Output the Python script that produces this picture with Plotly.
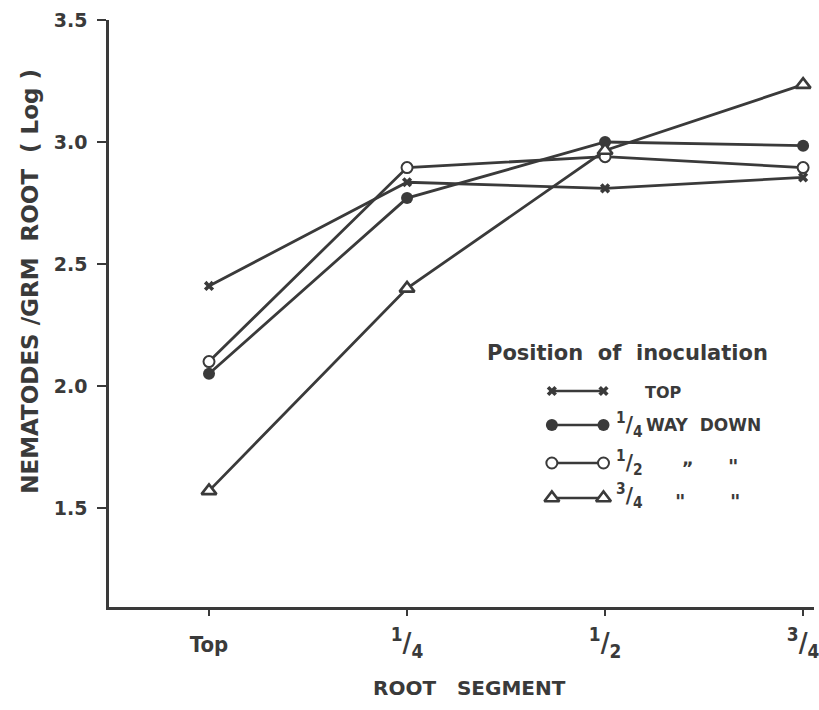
import plotly.graph_objects as go

# Root segments sampled (x categories) and their tick labels
segments = [0, 1, 2, 3]
segment_labels = [
    "<span style='font-size:22px'>Top</span>",
    "<sup>1</sup>/<sub>4</sub>",
    "<sup>1</sup>/<sub>2</sub>",
    "<sup>3</sup>/<sub>4</sub>",
]

# Log nematodes per gram root, one series per position of inoculation
inoc_top = [2.41, 2.835, 2.81, 2.855]
inoc_quarter = [2.05, 2.77, 3.00, 2.985]
inoc_half = [2.10, 2.895, 2.94, 2.895]
inoc_three_quarter = [1.57, 2.40, 2.965, 3.235]

y_ticks = [1.5, 2.0, 2.5, 3.0, 3.5]

INK = "#3a3a3a"
FONT = "DejaVu Sans, sans-serif"
FONT_NARROW = "DejaVu Sans Condensed, DejaVu Sans, sans-serif"

styles = [
    (inoc_top, dict(symbol="x", size=9, color=INK, line=dict(width=0))),
    (inoc_quarter, dict(symbol="circle", size=12, color=INK, line=dict(width=0))),
    (inoc_half, dict(symbol="circle", size=11, color="white", line=dict(width=2, color=INK))),
    (inoc_three_quarter, dict(symbol="triangle-up", size=13, color="white", line=dict(width=2.6, color=INK))),
]

fig = go.Figure()
for values, marker in styles:
    fig.add_trace(go.Scatter(
        x=segments, y=values, mode="lines+markers",
        line=dict(color=INK, width=2.8), marker=marker,
        showlegend=False, cliponaxis=False,
    ))

# Hand-drawn style key, placed in pixel space on an overlay axis pair
key_rows = [391, 425, 463, 498]
key_x = [555, 607]
for (values, marker), ky in zip(styles, key_rows):
    fig.add_trace(go.Scatter(
        x=key_x, y=[ky, ky], mode="lines+markers",
        line=dict(color=INK, width=2.6), marker=marker,
        xaxis="x2", yaxis="y2", showlegend=False, cliponaxis=False,
    ))

def label(text, x, y, size=16, anchor="left", family=FONT):
    fig.add_annotation(text=text, x=x, y=y, xref="x2", yref="y2",
                       showarrow=False, xanchor=anchor, yanchor="middle",
                       font=dict(family=family, size=size, color=INK, weight="bold"))

label("Position  of  inoculation", 631, 353, size=21, anchor="center")
label("TOP", 647, 392, size=16)
label("<sup>1</sup>/<sub>4</sub>", 618, 425, size=22, family=FONT_NARROW)
label("WAY  DOWN", 648, 425, size=17)
label("<sup>1</sup>/<sub>2</sub>", 618, 463, size=22, family=FONT_NARROW)
label("\u201e", 692, 458, size=18, anchor="center")
label("\"", 737, 466, size=20, anchor="center")
label("<sup>3</sup>/<sub>4</sub>", 618, 496, size=22, family=FONT_NARROW)
label("\"", 684, 501, size=20, anchor="center")
label("\"", 739, 501, size=20, anchor="center")

# Axis titles
fig.add_annotation(text="NEMATODES /GRM  ROOT  ( Log )", x=0, y=0.554,
                   xref="paper", yref="paper", textangle=-90, showarrow=False,
                   xanchor="center", yanchor="middle", xshift=-79,
                   font=dict(family=FONT, size=23, color=INK, weight="bold"))
fig.add_annotation(text="ROOT   SEGMENT", x=0.5, y=0, xref="paper", yref="paper",
                   showarrow=False, xanchor="center", yanchor="middle", yshift=-81,
                   xshift=8,
                   font=dict(family=FONT, size=20, color=INK, weight="bold"))

fig.update_layout(
    width=819, height=710,
    margin=dict(l=109, r=0, t=20, b=103),
    paper_bgcolor="white", plot_bgcolor="white",
    xaxis=dict(range=[-0.505, 3.055], tickmode="array", tickvals=segments,
               ticktext=segment_labels, showgrid=False, zeroline=False,
               showline=True, linecolor=INK, linewidth=2.5,
               ticks="outside", ticklen=6, tickwidth=2, tickcolor=INK,
               ticklabelstandoff=4, ticklabeloverflow="allow",
               tickfont=dict(family=FONT_NARROW, size=27, color=INK, weight="bold")),
    yaxis=dict(range=[1.094, 3.5], tickmode="array", tickvals=y_ticks,
               ticktext=[f"{v:.1f}" for v in y_ticks], showgrid=False, zeroline=False,
               showline=True, linecolor=INK, linewidth=2.5,
               ticks="outside", ticklen=9, tickwidth=2, tickcolor=INK,
               ticklabelstandoff=6,
               tickfont=dict(family=FONT, size=19, color=INK, weight="bold")),
    xaxis2=dict(overlaying="x", range=[109, 819], visible=False, fixedrange=True),
    yaxis2=dict(overlaying="y", range=[607, 20], visible=False, fixedrange=True),
)

fig.write_html("out.html")
